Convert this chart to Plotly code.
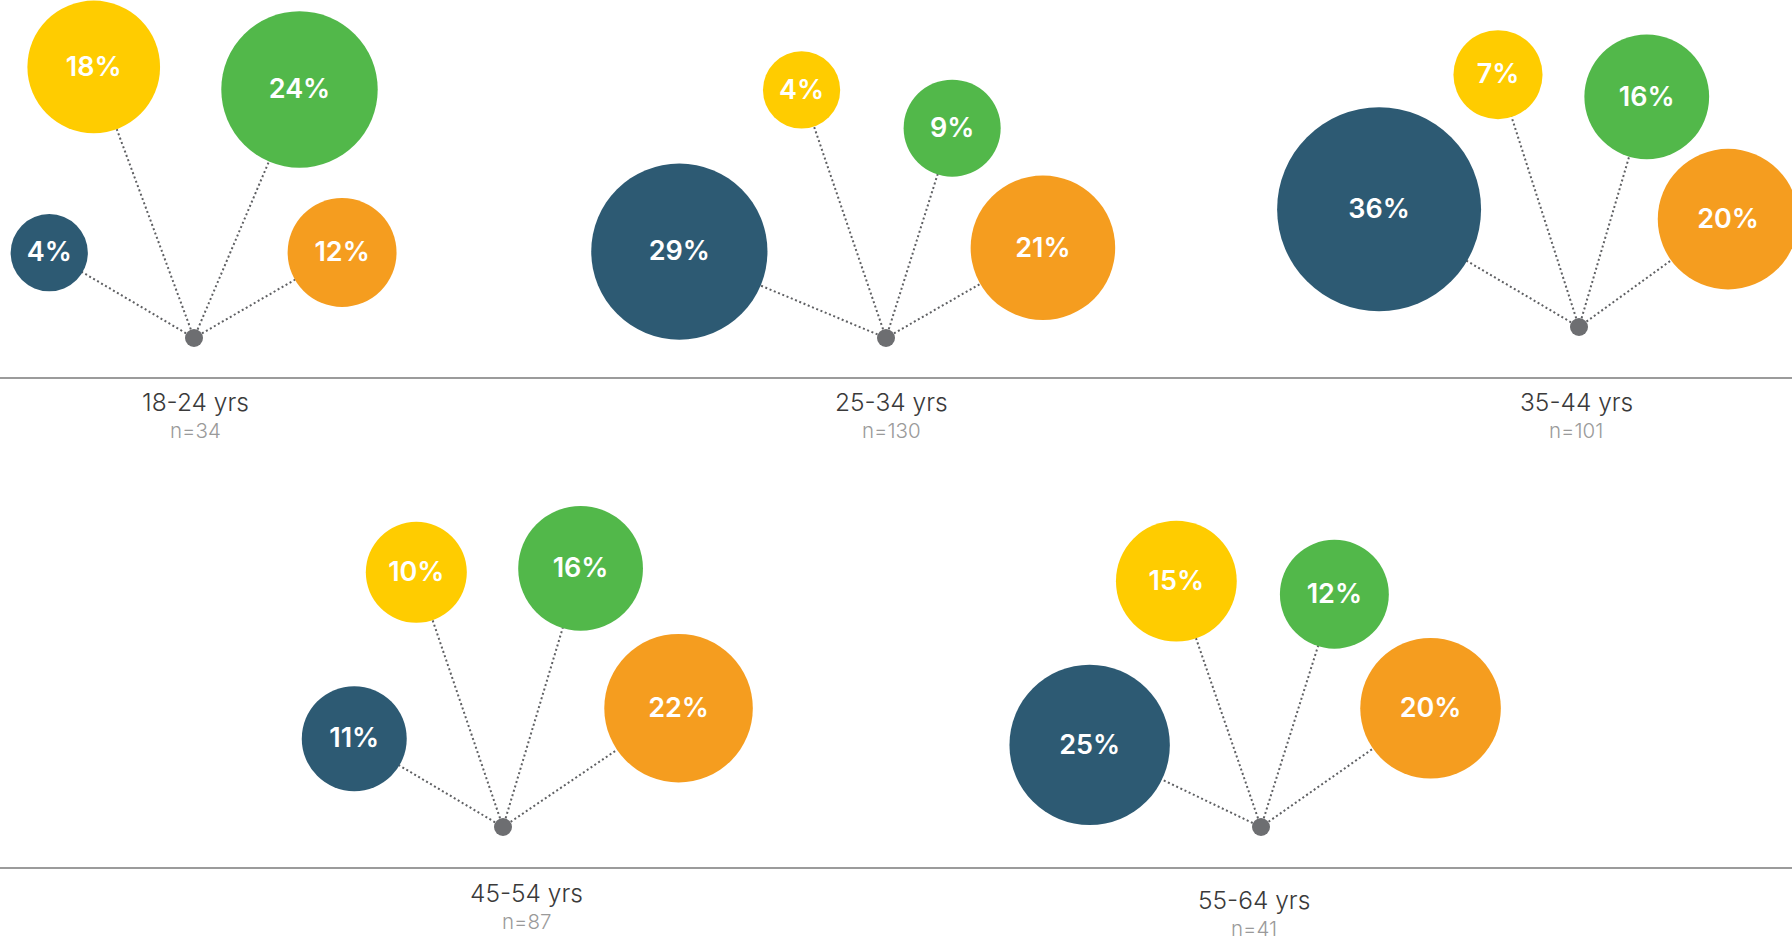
import math
import plotly.graph_objects as go

# ---- data -----------------------------------------------------------------
age_groups = ["18-24 yrs", "25-34 yrs", "35-44 yrs", "45-54 yrs", "55-64 yrs"]
sample_sizes = [34, 130, 101, 87, 41]

# share of respondents (%) per answer category within each age group
navy_pct = [4, 29, 36, 11, 25]
yellow_pct = [18, 4, 7, 10, 15]
green_pct = [24, 9, 16, 16, 12]
orange_pct = [12, 21, 20, 22, 20]

# ---- layout ---------------------------------------------------------------
W, H = 1792, 941
series = [
    ("navy", navy_pct, "#2D5A73"),
    ("yellow", yellow_pct, "#FFCC00"),
    ("green", green_pct, "#52B84A"),
    ("orange", orange_pct, "#F59D1F"),
]

# hub of each fan, and where the group caption sits
hub_xy = [(194, 338), (886, 338), (1579, 327), (503, 827), (1261, 827)]
caption_xy = [(195, 402), (891, 402), (1576, 402), (526, 893), (1254, 900)]
baseline_y = [378, 868]

# spoke direction (degrees, counter-clockwise from +x) and length in px,
# one entry per series (navy, yellow, green, orange) for every group
spokes = [
    [(149.5, 168), (110.3, 289), (67.0, 270), (30.0, 171)],
    [(157.3, 224), (108.8, 262), (72.5, 220), (29.9, 181)],
    [(149.5, 232), (107.8, 265), (73.6, 240), (35.9, 184)],
    [(149.3, 173), (108.8, 269), (73.3, 270), (34.1, 212)],
    [(154.4, 190), (109.0, 260), (72.5, 244), (35.0, 207)],
]


def bubble_diameter(pct):
    # linear size scale: px diameter from percentage
    return 2 * (30.7 + 1.98 * pct)


def spoke_end(g, s):
    hx, hy = hub_xy[g]
    ang, length = spokes[g][s]
    a = math.radians(ang)
    return hx + length * math.cos(a), hy - length * math.sin(a)


fig = go.Figure()

# dotted connectors (drawn first so bubbles cover the ends)
for g in range(len(age_groups)):
    for s in range(len(series)):
        ex, ey = spoke_end(g, s)
        hx, hy = hub_xy[g]
        fig.add_trace(go.Scatter(
            x=[hx, ex], y=[hy, ey], mode="lines",
            line=dict(color="#5F6063", width=2, dash="2px,2.6px"),
            hoverinfo="skip", showlegend=False,
        ))

# bubbles, with the value printed in the middle
for s, (name, vals, color) in enumerate(series):
    xs, ys = [], []
    for g in range(len(age_groups)):
        ex, ey = spoke_end(g, s)
        xs.append(ex)
        ys.append(ey)
    fig.add_trace(go.Scatter(
        x=xs, y=ys, mode="markers", name=name,
        marker=dict(size=[bubble_diameter(v) for v in vals], color=color,
                    line=dict(width=0), opacity=1),
        hoverinfo="skip", showlegend=False,
    ))
    fig.add_trace(go.Scatter(
        x=xs, y=[y + 2 for y in ys], mode="text",
        text=[f"{v}%" for v in vals], textposition="middle center",
        textfont=dict(family="Inter", size=27, color="white", weight=560),
        hoverinfo="skip", showlegend=False,
    ))

# hubs
fig.add_trace(go.Scatter(
    x=[p[0] for p in hub_xy], y=[p[1] for p in hub_xy], mode="markers",
    marker=dict(size=18, color="#6D6E71"), hoverinfo="skip", showlegend=False,
))

# baselines
for y in baseline_y:
    fig.add_shape(type="line", xref="paper", x0=0, x1=1, yref="y", y0=y, y1=y,
                  line=dict(color="#9B9B9B", width=2), layer="below")

# captions
for g, name in enumerate(age_groups):
    cx, cy = caption_xy[g]
    fig.add_annotation(x=cx, y=cy, text=name, showarrow=False,
                       font=dict(family="Inter", size=24.5, color="#3A3A3A", weight=300))
    fig.add_annotation(x=cx, y=cy + 28, text=f"n={sample_sizes[g]}", showarrow=False,
                       font=dict(family="Inter", size=20.5, color="#9A9A9A", weight=300))

fig.update_xaxes(range=[0, W], visible=False, fixedrange=True)
fig.update_yaxes(range=[H, 0], visible=False, fixedrange=True)
fig.update_layout(
    width=W, height=H, autosize=False,
    margin=dict(l=0, r=0, t=0, b=0),
    paper_bgcolor="white", plot_bgcolor="white",
)

fig.write_html("out.html", config={"displayModeBar": False})
